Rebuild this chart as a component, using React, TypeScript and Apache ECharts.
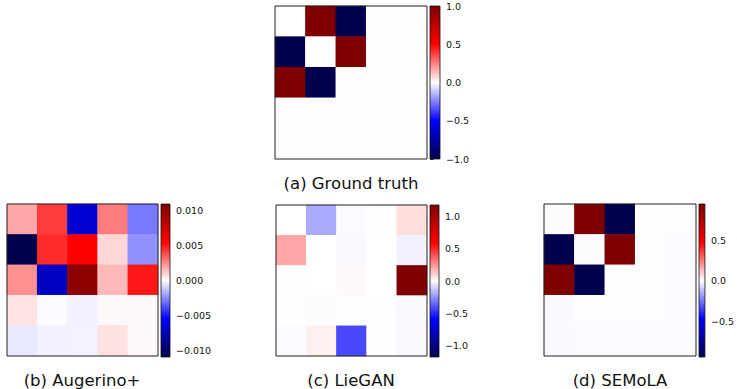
import React, { useEffect, useRef } from "react";
import * as echarts from "echarts";

// ---------------- data ----------------
const CATEGORIES = ["0", "1", "2", "3", "4"];

const GROUND_TRUTH = [
  [0, 1, -1, 0.005, 0.005],
  [-1, 0, 1, 0.005, 0.005],
  [1, -1, 0.005, 0.005, 0.005],
  [0.005, 0.005, 0.005, 0.005, 0.005],
  [0.005, 0.005, 0.005, 0.005, 0.005],
];

const AUGERINO = [
  [0.0019, 0.0042, -0.0069, 0.0028, -0.0029],
  [-0.011, 0.0046, 0.0055, 0.00086, -0.0024],
  [0.0024, -0.0074, 0.0104, 0.0015, 0.005],
  [0.0006, -0.0001, -0.0003, 0.00015, 0.00015],
  [-0.0005, -0.0003, -0.00025, 0.00065, 0.00015],
];

const LIEGAN = [
  [0.0, -0.195, -0.012, 0.003, 0.076],
  [0.206, 0.0, -0.016, 0.0, -0.03],
  [-0.005, 0.0, 0.015, 0.0, 1.17],
  [0.003, -0.006, -0.005, 0.002, -0.015],
  [-0.01, 0.035, -0.42, 0.002, -0.015],
];

const SEMOLA = [
  [0, 0.95, -0.94, 0.003, 0.002],
  [-0.94, 0, 0.95, 0.002, -0.005],
  [0.95, -0.94, 0.003, 0.002, -0.004],
  [-0.006, 0.002, 0.002, 0.002, -0.005],
  [-0.006, -0.004, -0.004, -0.004, -0.005],
];

const RANGE_A = [-1, 1];
const RANGE_B = [-0.011, 0.011];
const RANGE_C = [-1.17, 1.17];
const RANGE_D = [-0.94, 0.95];

const TICKS_A = [-1, -0.5, 0, 0.5, 1];
const TICK_LABELS_A = ["\u22121.0", "\u22120.5", "0.0", "0.5", "1.0"];
const TICKS_B = [-0.01, -0.005, 0, 0.005, 0.01];
const TICK_LABELS_B = ["\u22120.010", "\u22120.005", "0.000", "0.005", "0.010"];
const TICKS_C = [-1, -0.5, 0, 0.5, 1];
const TICK_LABELS_C = ["\u22121.0", "\u22120.5", "0.0", "0.5", "1.0"];
const TICKS_D = [-0.5, 0, 0.5];
const TICK_LABELS_D = ["\u22120.5", "0.0", "0.5"];

const TITLES = ["(a) Ground truth", "(b) Augerino+", "(c) LieGAN", "(d) SEMoLA"];

// seismic colormap stops
const SEISMIC = ["#00004c", "#0000ff", "#ffffff", "#ff0000", "#7f0000"];

// ---------------- layout ----------------
const PANELS = [
  { matrix: GROUND_TRUTH, range: RANGE_A, ticks: TICKS_A, labels: TICK_LABELS_A,
    heat: { left: 275, top: 6, width: 152, height: 153 },
    bar: { left: 430, top: 6, width: 10, height: 153 },
    title: { x: 351, y: 183 } },
  { matrix: AUGERINO, range: RANGE_B, ticks: TICKS_B, labels: TICK_LABELS_B,
    heat: { left: 7, top: 204, width: 151, height: 152 },
    bar: { left: 161, top: 204, width: 9, height: 153 },
    title: { x: 82, y: 380 } },
  { matrix: LIEGAN, range: RANGE_C, ticks: TICKS_C, labels: TICK_LABELS_C,
    heat: { left: 276, top: 205, width: 151, height: 151 },
    bar: { left: 430, top: 205, width: 9, height: 152 },
    title: { x: 351, y: 380 } },
  { matrix: SEMOLA, range: RANGE_D, ticks: TICKS_D, labels: TICK_LABELS_D,
    heat: { left: 544, top: 204, width: 152, height: 152 },
    bar: { left: 699, top: 204, width: 9, height: 153 },
    title: { x: 620, y: 380 } },
];

const FONT = "DejaVu Sans";

function buildOption() {
  const grid: any[] = [];
  const xAxis: any[] = [];
  const yAxis: any[] = [];
  const series: any[] = [];
  const visualMap: any[] = [];
  const graphic: any[] = [];

  PANELS.forEach((p, i) => {
    const hg = grid.length;
    grid.push({ ...p.heat, show: true, z: 5, borderColor: "#222", borderWidth: 1, backgroundColor: "transparent", containLabel: false });
    xAxis.push({ gridIndex: hg, type: "category", data: CATEGORIES, show: false });
    yAxis.push({ gridIndex: hg, type: "category", data: CATEGORIES, inverse: true, show: false });
    const data: any[] = [];
    p.matrix.forEach((row, r) => row.forEach((v, c) => data.push([c, r, v])));
    const heatIdx = series.length;
    series.push({
      type: "heatmap",
      xAxisIndex: hg,
      yAxisIndex: hg,
      data,
      itemStyle: { borderWidth: 0 },
      emphasis: { disabled: true },
    });
    visualMap.push({
      type: "continuous",
      show: false,
      seriesIndex: heatIdx,
      min: p.range[0],
      max: p.range[1],
      dimension: 2,
      inRange: { color: SEISMIC },
    });

    const bg = grid.length;
    grid.push({ ...p.bar, show: true, z: 5, borderColor: "#111", borderWidth: 0.8, backgroundColor: "transparent", containLabel: false });
    xAxis.push({ gridIndex: bg, type: "value", min: 0, max: 1, show: false });
    const labels = p.labels;
    const ticks = p.ticks;
    yAxis.push({
      gridIndex: bg,
      type: "value",
      position: "right",
      min: p.range[0],
      max: p.range[1],
      splitLine: { show: false },
      axisLine: { show: false },
      axisTick: { show: true, length: 3.5, lineStyle: { color: "#000", width: 0.8 }, customValues: ticks },
      axisLabel: {
        show: true,
        margin: 6,
        fontFamily: FONT,
        fontSize: 9.5,
        color: "#111",
        customValues: ticks,
        formatter: (v: number) => {
          const k = ticks.findIndex((t) => Math.abs(t - v) < 1e-9);
          return k >= 0 ? labels[k] : "";
        },
      },
    });
    const lo = p.range[0];
    const hi = p.range[1];
    series.push({
      type: "custom",
      xAxisIndex: bg,
      yAxisIndex: bg,
      data: [[0, lo]],
      silent: true,
      renderItem: (params: any, api: any) => {
        const p0 = api.coord([0, hi]);
        const p1 = api.coord([1, lo]);
        return {
          type: "rect",
          shape: { x: p0[0], y: p0[1], width: p1[0] - p0[0], height: p1[1] - p0[1] },
          style: {
            fill: new echarts.graphic.LinearGradient(0, 1, 0, 0, SEISMIC.map((c, k) => ({ offset: k / (SEISMIC.length - 1), color: c }))),
          },
        };
      },
    });

    graphic.push({
      type: "text",
      x: p.title.x,
      y: p.title.y,
      style: {
        text: TITLES[i],
        fontFamily: FONT,
        fontSize: 16.5,
        fill: "#111",
        align: "center",
        verticalAlign: "middle",
      },
    });
  });

  return {
    animation: false,
    backgroundColor: "#ffffff",
    grid,
    xAxis,
    yAxis,
    visualMap,
    series,
    graphic,
  };
}

export default function App() {
  const ref = useRef<HTMLDivElement>(null);
  useEffect(() => {
    if (!ref.current) return;
    const chart = echarts.init(ref.current, null, { renderer: "svg" });
    chart.setOption(buildOption() as any);
    return () => chart.dispose();
  }, []);
  return (
    <div
      ref={ref}
      style={{ position: "fixed", left: 0, top: 0, width: 737, height: 389, background: "#fff" }}
    />
  );
}
